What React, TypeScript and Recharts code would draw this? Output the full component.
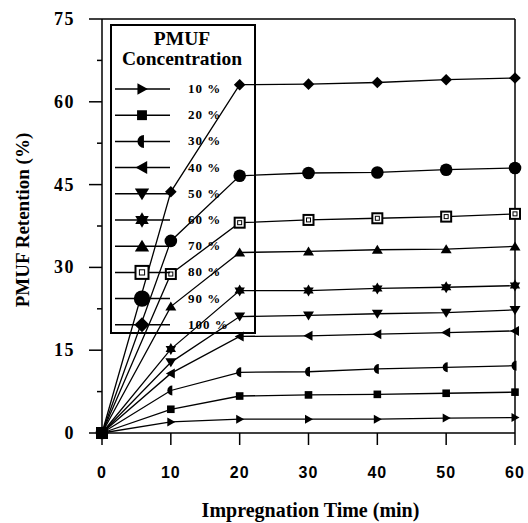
import { Legend, Line, LineChart, ReferenceLine, XAxis, YAxis } from 'recharts'

const TIMES = [0, 10, 20, 30, 40, 50, 60]
const Y_TICKS = [0, 7.5, 15, 22.5, 30, 37.5, 45, 52.5, 60, 67.5, 75]

const C10 = [0, 2.0, 2.5, 2.5, 2.5, 2.7, 2.8]
const C20 = [0, 4.3, 6.7, 6.9, 7.0, 7.2, 7.4]
const C30 = [0, 7.7, 11.0, 11.1, 11.6, 11.9, 12.2]
const C40 = [0, 10.8, 17.5, 17.6, 17.9, 18.2, 18.5]
const C50 = [0, 12.8, 21.1, 21.3, 21.6, 21.8, 22.3]
const C60 = [0, 15.2, 25.8, 25.8, 26.2, 26.4, 26.7]
const C70 = [0, 22.9, 32.7, 32.9, 33.2, 33.3, 33.8]
const C80 = [0, 28.8, 38.1, 38.6, 38.9, 39.2, 39.7]
const C90 = [0, 34.8, 46.6, 47.1, 47.2, 47.7, 48.0]
const C100 = [0, 43.7, 63.1, 63.2, 63.5, 64.0, 64.3]

type Shape =
  | 'triRight'
  | 'square'
  | 'halfLeft'
  | 'triLeft'
  | 'triDown'
  | 'star'
  | 'triUp'
  | 'hollowSquare'
  | 'circle'
  | 'diamond'

const SERIES: { key: string; name: string; values: number[]; shape: Shape }[] = [
  { key: 'c10', name: '10 %', values: C10, shape: 'triRight' },
  { key: 'c20', name: '20 %', values: C20, shape: 'square' },
  { key: 'c30', name: '30 %', values: C30, shape: 'halfLeft' },
  { key: 'c40', name: '40 %', values: C40, shape: 'triLeft' },
  { key: 'c50', name: '50 %', values: C50, shape: 'triDown' },
  { key: 'c60', name: '60 %', values: C60, shape: 'star' },
  { key: 'c70', name: '70 %', values: C70, shape: 'triUp' },
  { key: 'c80', name: '80 %', values: C80, shape: 'hollowSquare' },
  { key: 'c90', name: '90 %', values: C90, shape: 'circle' },
  { key: 'c100', name: '100 %', values: C100, shape: 'diamond' },
]

const data = TIMES.map((t, i) => {
  const row: Record<string, number> = { t }
  SERIES.forEach((s) => (row[s.key] = s.values[i]))
  return row
})

const SERIF = '"Liberation Serif", "Times New Roman", serif'
const SANS = '"Liberation Sans", Arial, sans-serif'

// draws one marker glyph, s = scale
function Marker({ cx, cy, shape, s = 1 }: { cx: number; cy: number; shape: Shape; s?: number }) {
  const p = (pts: number[][]) => pts.map(([a, b]) => `${cx + a * s},${cy + b * s}`).join(' ')
  switch (shape) {
    case 'triRight':
      return <polygon points={p([[-3.5, -4.5], [4.5, 0], [-3.5, 4.5]])} fill="#000" />
    case 'triLeft':
      return <polygon points={p([[4, -5], [-5, 0], [4, 5]])} fill="#000" />
    case 'triDown':
      return <polygon points={p([[-5.5, -4], [5.5, -4], [0, 5]])} fill="#000" />
    case 'triUp':
      return <polygon points={p([[-5.5, 4], [5.5, 4], [0, -5]])} fill="#000" />
    case 'square':
      return <rect x={cx - 3.8 * s} y={cy - 3.8 * s} width={7.6 * s} height={7.6 * s} fill="#000" />
    case 'halfLeft':
      return (
        <path
          d={`M ${cx + 1.5 * s} ${cy - 5 * s} A ${5 * s} ${5 * s} 0 0 0 ${cx + 1.5 * s} ${cy + 5 * s} Z`}
          fill="#000"
        />
      )
    case 'star':
      return (
        <g fill="#000">
          <polygon points={p([[0, -6], [5.2, 3], [-5.2, 3]])} />
          <polygon points={p([[0, 6], [5.2, -3], [-5.2, -3]])} />
        </g>
      )
    case 'hollowSquare':
      return (
        <g>
          <rect x={cx - 5 * s} y={cy - 5 * s} width={10 * s} height={10 * s} fill="#fff" stroke="#000" strokeWidth={2} />
          <rect x={cx - 2 * s} y={cy - 2 * s} width={4 * s} height={4 * s} fill="none" stroke="#000" strokeWidth={1} />
        </g>
      )
    case 'circle':
      return <ellipse cx={cx} cy={cy} rx={6.3 * s} ry={6.3 * s} fill="#000" />
    case 'diamond':
      return <polygon points={p([[0, -5.8], [5.8, 0], [0, 5.8], [-5.8, 0]])} fill="#000" />
  }
}

function YTick({ x, y, payload }: { x: number; y: number; payload: { value: number } }) {
  const major = payload.value % 15 === 0
  return (
    <g>
      <line x1={x} x2={x - (major ? 13 : 5)} y1={y} y2={y} stroke="#000" strokeWidth={1.5} />
      {major && (
        <text x={x - 27} y={y + 6} textAnchor="end" fontFamily={SERIF} fontWeight="bold" fontSize={18} letterSpacing={1.5} fill="#000">
          {payload.value}
        </text>
      )}
    </g>
  )
}

function XTick({ x, y, payload }: { x: number; y: number; payload: { value: number } }) {
  return (
    <g>
      <line x1={x} x2={x} y1={y} y2={y + 12} stroke="#000" strokeWidth={1.5} />
      <text x={x} y={y + 45} textAnchor="middle" fontFamily={SANS} fontWeight="bold" fontSize={16} letterSpacing={1} fill="#000">
        {payload.value}
      </text>
    </g>
  )
}

function LegendBox() {
  return (
    <svg width={146} height={310} style={{ display: 'block' }}>
      <rect x={1} y={1} width={144} height={308} fill="none" stroke="#000" strokeWidth={2} />
      <text x={72} y={21} textAnchor="middle" fontFamily={SERIF} fontWeight="bold" fontSize={19.5}>
        PMUF
      </text>
      <text x={72} y={41} textAnchor="middle" fontFamily={SERIF} fontWeight="bold" fontSize={19.5}>
        Concentration
      </text>
      {SERIES.map((s, i) => {
        const y = 65 + i * 26.2
        return (
          <g key={s.key}>
            <line x1={5} x2={60} y1={y} y2={y} stroke="#000" strokeWidth={1.5} />
            <Marker cx={32} cy={y} shape={s.shape} s={1.3} />
            <text x={78} y={y + 4} fontFamily={SERIF} fontWeight="bold" fontSize={13} letterSpacing={1}>
              {s.name}
            </text>
          </g>
        )
      })}
    </svg>
  )
}

export default function App() {
  return (
    <div style={{ position: 'absolute', left: 0, top: 0, width: 528, height: 523, background: '#fff' }}>
      <LineChart width={528} height={523} data={data} margin={{ top: 19, right: 13, bottom: 0, left: 0 }}>
        <XAxis
          type="number"
          dataKey="t"
          domain={[0, 60]}
          ticks={TIMES}
          height={90}
          tickSize={0}
          tickMargin={0}
          axisLine={{ stroke: '#000', strokeWidth: 1.5 }}
          tickLine={false}
          tick={XTick as never}
          interval={0}
          label={{
            content: ({ viewBox }: { viewBox?: { x: number; y: number; width: number } }) =>
              viewBox ? (
                <text x={viewBox.x + viewBox.width / 2 + 2} y={viewBox.y + 84} textAnchor="middle" fontFamily={SERIF} fontWeight="bold" fontSize={20} fill="#000">
                  Impregnation Time (min)
                </text>
              ) : null,
          }}
        />
        <YAxis
          type="number"
          domain={[0, 75]}
          ticks={Y_TICKS}
          width={102}
          tickSize={0}
          tickMargin={0}
          axisLine={{ stroke: '#000', strokeWidth: 1.5 }}
          tickLine={false}
          tick={YTick as never}
          interval={0}
          label={{
            content: () => (
              <text transform="translate(29, 220) rotate(-90)" textAnchor="middle" fontFamily={SERIF} fontWeight="bold" fontSize={19} fill="#000">
                PMUF Retention (%)
              </text>
            ),
          }}
        />
        <ReferenceLine y={75} stroke="#000" strokeWidth={1.5} />
        <ReferenceLine x={60} stroke="#000" strokeWidth={1.5} />
        <Legend
          layout="vertical"
          align="center"
          verticalAlign="middle"
          wrapperStyle={{ left: 110, top: 24, width: 146, height: 310 }}
          content={() => <LegendBox />}
        />
        {SERIES.map((s) => (
          <Line
            key={s.key}
            dataKey={s.key}
            name={s.name}
            stroke="#000"
            strokeWidth={1.3}
            isAnimationActive={false}
            dot={(props: { cx?: number; cy?: number; index?: number }) => (
              <Marker key={`${s.key}-${props.index}`} cx={props.cx ?? 0} cy={props.cy ?? 0} shape={s.shape} />
            )}
            activeDot={false}
          />
        ))}
      </LineChart>
    </div>
  )
}
